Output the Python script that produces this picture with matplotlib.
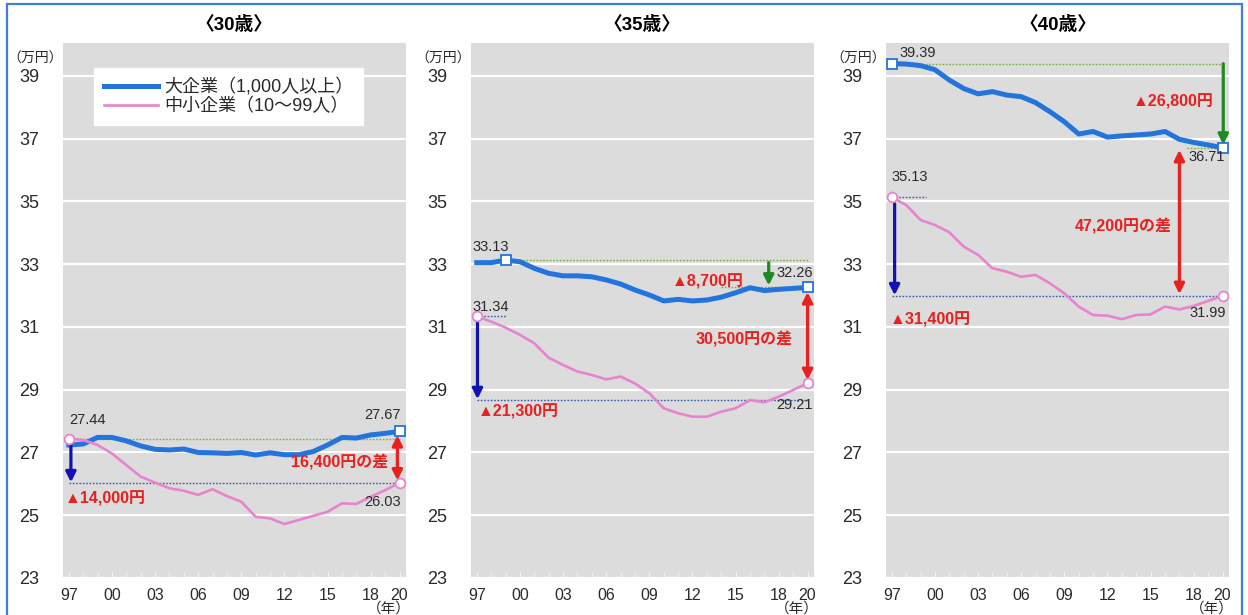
import matplotlib.pyplot as plt
import matplotlib.patches as patches

plt.rcParams['font.family'] = ['Liberation Sans', 'Noto Sans CJK JP', 'DejaVu Sans']

years = list(range(1997, 2021))
xticks = [1997, 2000, 2003, 2006, 2009, 2012, 2015, 2018, 2020]
xticklabels = ['97', '00', '03', '06', '09', '12', '15', '18', '20']
yticks = list(range(23, 40, 2))

# 所定内給与（万円）
big30 = [27.24, 27.27, 27.48, 27.48, 27.37, 27.21, 27.10, 27.08, 27.11, 27.00, 26.99, 26.97,
         27.00, 26.92, 26.99, 26.93, 26.93, 27.03, 27.24, 27.48, 27.46, 27.56, 27.61, 27.67]
small30 = [27.44, 27.40, 27.24, 26.97, 26.60, 26.23, 26.04, 25.86, 25.78, 25.65, 25.83, 25.61,
           25.43, 24.95, 24.90, 24.72, 24.85, 24.98, 25.11, 25.38, 25.36, 25.59, 25.80, 26.03]
big35 = [33.05, 33.05, 33.13, 33.08, 32.87, 32.71, 32.63, 32.63, 32.60, 32.50, 32.37, 32.18,
         32.02, 31.83, 31.88, 31.83, 31.86, 31.95, 32.09, 32.25, 32.16, 32.20, 32.23, 32.26]
small35 = [31.34, 31.17, 30.98, 30.75, 30.48, 30.02, 29.79, 29.58, 29.47, 29.33, 29.42, 29.20,
           28.89, 28.41, 28.25, 28.14, 28.14, 28.30, 28.41, 28.67, 28.60, 28.78, 28.99, 29.21]
big40 = [39.39, 39.38, 39.33, 39.20, 38.87, 38.60, 38.43, 38.50, 38.39, 38.34, 38.15, 37.86,
         37.54, 37.15, 37.23, 37.05, 37.09, 37.12, 37.15, 37.23, 36.98, 36.88, 36.80, 36.71]
small40 = [35.13, 34.89, 34.41, 34.25, 34.02, 33.56, 33.30, 32.87, 32.76, 32.60, 32.66, 32.39,
           32.07, 31.65, 31.38, 31.36, 31.25, 31.38, 31.40, 31.65, 31.56, 31.67, 31.83, 31.99]

BLUE = '#2374dc'
PINK = '#e883cf'
NAVY = '#1212b4'
GREEN = '#1f8a22'
RED = '#e8201e'
GRAY = '#dcdcdc'
TXT = '#2a2a2a'

fig = plt.figure(figsize=(12.48, 6.15), dpi=100)
lefts = [63, 471, 886]
axes = [fig.add_axes([l / 1248, 37 / 615, 343 / 1248, 535 / 615]) for l in lefts]


def base(ax, title, big, small):
    ax.set_facecolor(GRAY)
    for s in ax.spines.values():
        s.set_visible(False)
    ax.set_xlim(1996.6, 2020.45)
    ax.set_ylim(23, 40.05)
    ax.set_yticks(yticks)
    ax.set_xticks(xticks)
    ax.set_xticklabels(xticklabels)
    ax.set_xticks(years, minor=True)
    ax.grid(axis='y', color='white', lw=1.6)
    ax.set_axisbelow(True)
    ax.tick_params(axis='y', length=0, pad=17, labelsize=13, labelcolor=TXT)
    ax.tick_params(axis='x', which='both', direction='in', length=4, color='#f2f2f2',
                   pad=7, labelsize=11.5, labelcolor=TXT)
    ax.plot(years, big, color=BLUE, lw=3.6, solid_joinstyle='round', zorder=4, label='大企業（1,000人以上）')
    ax.plot(years, small, color=PINK, lw=1.9, zorder=4, label='中小企業（10～99人）')
    ax.text(0.5, 1.034, title, transform=ax.transAxes, ha='center', va='center',
            fontsize=13.5, fontweight='bold', color='black')
    ax.text(0.0, 0.97, '（万円）', transform=ax.transAxes, ha='right', va='center',
            fontsize=10, color=TXT)
    ax.text(0.95, -0.058, '（年）', transform=ax.transAxes, ha='center', va='center',
            fontsize=10.5, color=TXT)


def hline(ax, y, x0, x1, color):
    ax.plot([x0, x1], [y, y], color=color, lw=1.0, ls=(0, (1.2, 1.2)), zorder=3)


def arrow(ax, x, y0, y1, color, double=False):
    style = '<|-|>' if double else '-|>'
    ax.annotate('', xy=(x, y1), xytext=(x, y0),
                arrowprops=dict(arrowstyle=style, color=color, lw=2.3,
                                mutation_scale=15, shrinkA=0, shrinkB=0), zorder=5)


def sq(ax, x, y):
    ax.plot([x], [y], marker='s', ms=7, mfc='white', mec=BLUE, mew=1.3, zorder=6)


def circ(ax, x, y):
    ax.plot([x], [y], marker='o', ms=7, mfc='white', mec=PINK, mew=1.3, zorder=6)


def val(ax, x, y, s, ha):
    ax.text(x, y, s, ha=ha, va='center', fontsize=10.5, color=TXT, zorder=7)


def red(ax, x, y, s, ha):
    ax.text(x, y, s, ha=ha, va='center', fontsize=11.5, fontweight='bold', color=RED, zorder=7)


# 30歳
ax = axes[0]
base(ax, '〈30歳〉', big30, small30)
hline(ax, small30[0], 1997, 2020, '#7cae3c')
hline(ax, small30[-1], 1997, 2020, '#3a5aa8')
arrow(ax, 1997.15, small30[0], small30[-1] + 0.02, NAVY)
arrow(ax, 2019.85, big30[-1] - 0.12, small30[-1] + 0.08, RED, double=True)
sq(ax, 2020, big30[-1])
circ(ax, 1997, small30[0])
circ(ax, 2020, small30[-1])
val(ax, 1997.0, 28.04, '27.44', 'left')
val(ax, 2020.1, 28.2, '27.67', 'right')
val(ax, 2020.1, 25.43, '26.03', 'right')
red(ax, 2019.2, 26.67, '16,400円の差', 'right')
red(ax, 1996.75, 25.52, '▲14,000円', 'left')
leg = ax.legend(loc='upper left', bbox_to_anchor=(0.065, 0.97), fontsize=13, frameon=True,
                fancybox=False, framealpha=1, edgecolor='white', handlelength=3.0,
                borderpad=0.55, labelspacing=0.1, handletextpad=0.3)
for t in leg.get_texts():
    t.set_color(TXT)

# 35歳
ax = axes[1]
base(ax, '〈35歳〉', big35, small35)
hline(ax, big35[2], 1999, 2020, '#7cae3c')
hline(ax, big35[-1], 2014, 2020, '#7cae3c')
hline(ax, small35[0], 1997, 1999.1, '#3a5aa8')
hline(ax, 28.68, 1997, 2020, '#3a5aa8')
arrow(ax, 1997.05, small35[0] - 0.05, 28.7, NAVY)
arrow(ax, 2017.3, 33.05, 32.32, GREEN)
arrow(ax, 2020.0, big35[-1] - 0.15, small35[-1] + 0.1, RED, double=True)
sq(ax, 1999, big35[2])
sq(ax, 2020, big35[-1])
circ(ax, 1997, small35[0])
circ(ax, 2020, small35[-1])
val(ax, 1996.72, 33.56, '33.13', 'left')
val(ax, 2020.35, 32.72, '32.26', 'right')
val(ax, 1996.72, 31.65, '31.34', 'left')
val(ax, 2020.35, 28.51, '29.21', 'right')
red(ax, 2015.55, 32.44, '▲8,700円', 'right')
red(ax, 1997.05, 28.3, '▲21,300円', 'left')
red(ax, 2019.0, 30.59, '30,500円の差', 'right')

# 40歳
ax = axes[2]
base(ax, '〈40歳〉', big40, small40)
hline(ax, big40[0], 1997, 2020, '#7cae3c')
hline(ax, big40[-1], 2017.5, 2020, '#7cae3c')
hline(ax, small40[0], 1997, 1999.4, '#3a5aa8')
hline(ax, small40[-1], 1997, 2020, '#3a5aa8')
arrow(ax, 1997.2, small40[0] - 0.2, small40[-1] + 0.02, NAVY)
arrow(ax, 2020.05, big40[0], big40[-1] + 0.1, GREEN)
arrow(ax, 2017.0, big40[-1] - 0.07, small40[-1] + 0.06, RED, double=True)
sq(ax, 1997, big40[0])
sq(ax, 2020, big40[-1])
circ(ax, 1997, small40[0])
circ(ax, 2020, small40[-1])
val(ax, 1997.55, 39.72, '39.39', 'left')
val(ax, 2020.2, 36.43, '36.71', 'right')
val(ax, 1997.0, 35.79, '35.13', 'left')
val(ax, 2020.27, 31.45, '31.99', 'right')
red(ax, 2019.4, 38.18, '▲26,800円', 'right')
red(ax, 2016.5, 34.2, '47,200円の差', 'right')
red(ax, 1996.86, 31.22, '▲31,400円', 'left')

# outer frame
fig.patches.append(patches.Rectangle((7 / 1248, -0.05), 1235 / 1248, 1.05 - 4 / 615,
                                     transform=fig.transFigure, fill=False,
                                     edgecolor='#3f7fd9', lw=1.6))

fig.savefig('out.png', dpi=100)
